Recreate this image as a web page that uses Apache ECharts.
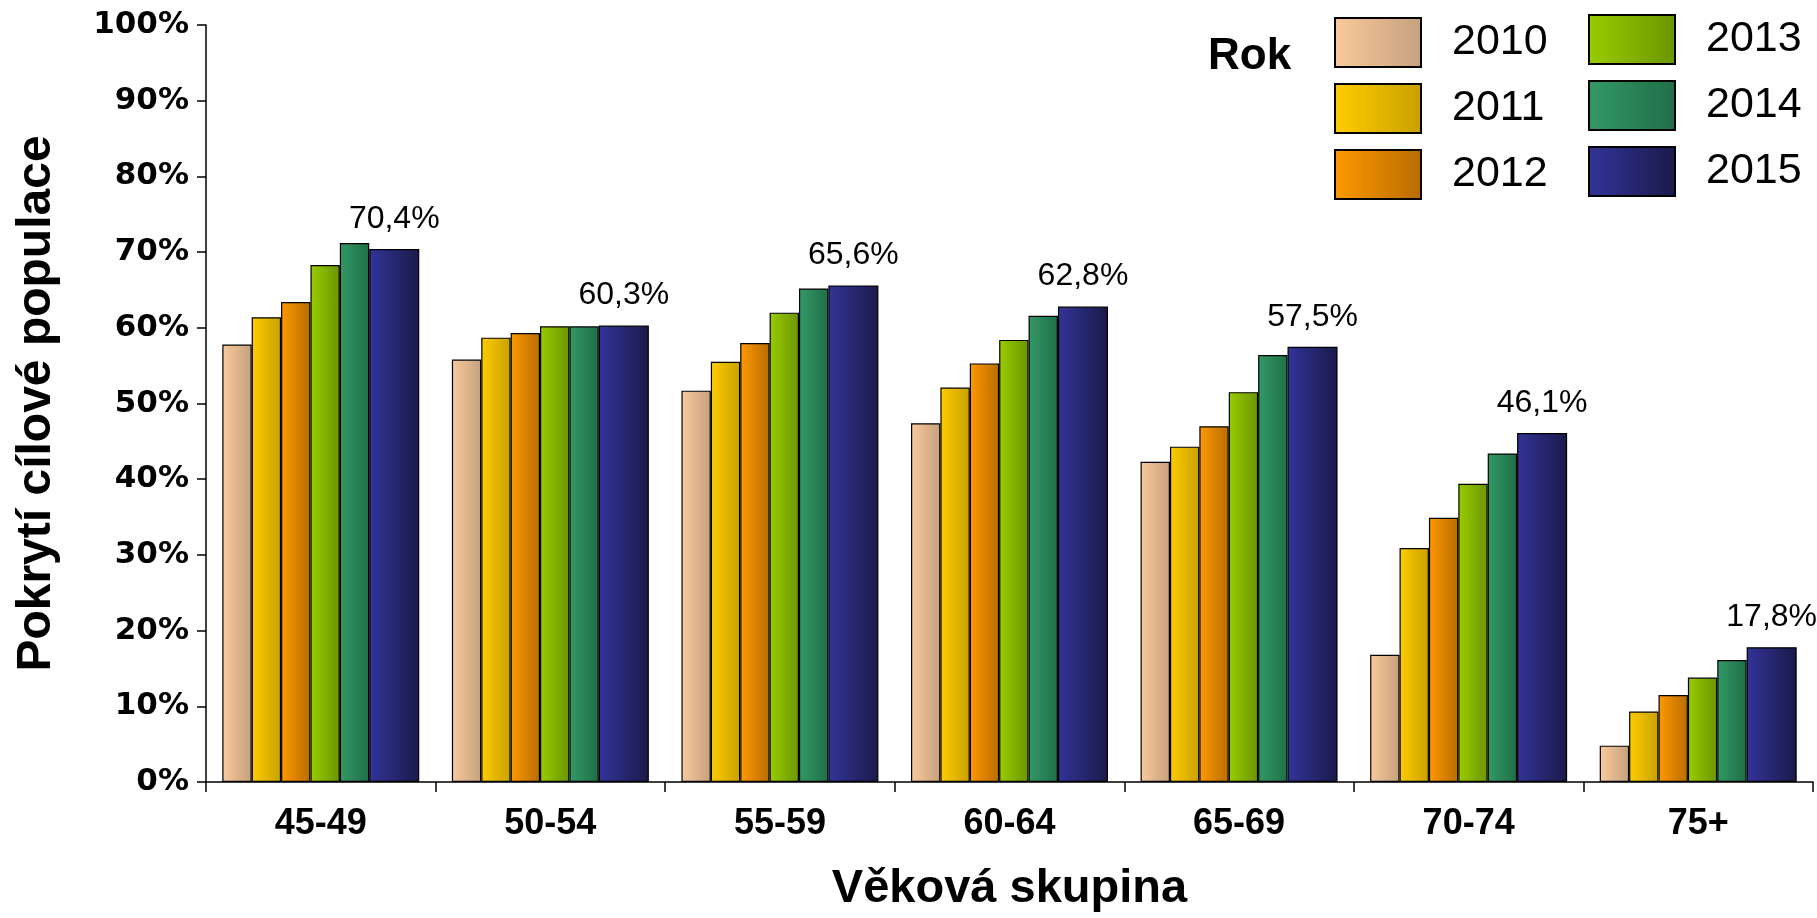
<!DOCTYPE html>
<html>
<head>
<meta charset="utf-8">
<script src="https://cdn.jsdelivr.net/npm/echarts@6/dist/echarts.min.js"></script>
<style>
html,body{margin:0;padding:0;background:#fff;}
#chart{width:1817px;height:918px;}
</style>
</head>
<body>
<div id="chart"></div>
<script>
const categories = ['45-49','50-54','55-59','60-64','65-69','70-74','75+'];
const years = ['2010','2011','2012','2013','2014','2015'];
const v2010 = [57.8, 55.8, 51.7, 47.4, 42.3, 16.8, 4.8];
const v2011 = [61.4, 58.7, 55.5, 52.1, 44.3, 30.9, 9.3];
const v2012 = [63.4, 59.3, 58.0, 55.3, 47.0, 34.9, 11.5];
const v2013 = [68.3, 60.2, 62.0, 58.4, 51.5, 39.4, 13.8];
const v2014 = [71.2, 60.2, 65.2, 61.6, 56.4, 43.4, 16.1];
const v2015 = [70.4, 60.3, 65.6, 62.8, 57.5, 46.1, 17.8];
const yTicks = [0,10,20,30,40,50,60,70,80,90,100];

const seriesValues = [v2010, v2011, v2012, v2013, v2014, v2015];
const gradStops = [
  ['#F9CA9C', '#C6A07E'],
  ['#FFCC00', '#C9A000'],
  ['#FF9900', '#B86C00'],
  ['#99CC00', '#6C9500'],
  ['#339966', '#1F6E48'],
  ['#333399', '#1A1A4A']
];
function grad(c){
  return new echarts.graphic.LinearGradient(0,0,1,0,[{offset:0,color:c[0]},{offset:1,color:c[1]}]);
}
const fmt = v => v.toFixed(1).replace('.', ',') + '%';

const series = years.map((y, i) => ({
  name: y,
  type: 'bar',
  data: seriesValues[i],
  barWidth: i === 5 ? '21.8%' : '12.8%',
  barGap: '0%',
  itemStyle: { color: grad(gradStops[i]), borderColor: '#000', borderWidth: 1.2 },
  label: i === 5 ? {
    show: true, position: 'top', distance: 14,
    formatter: p => fmt(p.value),
    color: '#000', fontSize: 32, fontFamily: 'Liberation Sans, Arial, sans-serif'
  } : { show: false },
  emphasis: { disabled: true },
  animation: false
}));

const legendText = { color: '#000', fontSize: 43, fontFamily: 'Liberation Sans, Arial, sans-serif', lineHeight: 43, padding: [0,0,0,26] };
const chart = echarts.init(document.getElementById('chart'));
chart.setOption({
  backgroundColor: '#fff',
  animation: false,
  title: {
    text: 'Rok', left: 1203, top: 30,
    textStyle: { fontSize: 44, fontWeight: 'bold', color: '#000', fontFamily: 'Liberation Sans, Arial, sans-serif' }
  },
  legend: [
    { data: years.slice(0,3), icon: 'rect', orient: 'vertical', left: 1329, top: 12, itemWidth: 86, itemHeight: 49, itemGap: 15, textStyle: legendText, selectedMode: false },
    { data: years.slice(3), icon: 'rect', orient: 'vertical', left: 1583, top: 9, itemWidth: 86, itemHeight: 49, itemGap: 15, textStyle: legendText, selectedMode: false }
  ],
  grid: { left: 206, right: 4, top: 25, bottom: 130, containLabel: false },
  xAxis: {
    type: 'category', data: categories,
    name: 'Věková skupina', nameLocation: 'middle', nameGap: 84,
    nameTextStyle: { fontSize: 47, fontWeight: 'bold', color: '#000', fontFamily: 'Liberation Sans, Arial, sans-serif' },
    axisLine: { lineStyle: { color: '#000', width: 1.5 } },
    axisTick: { show: true, length: 10, lineStyle: { color: '#000', width: 1.5 } },
    axisLabel: { color: '#000', fontSize: 36, fontWeight: 'bold', margin: 24, fontFamily: 'Liberation Sans, Arial, sans-serif' }
  },
  yAxis: {
    type: 'value', min: 0, max: 100, interval: 10,
    name: 'Pokrytí cílové populace', nameLocation: 'middle', nameGap: 145, nameRotate: 90,
    nameTextStyle: { fontSize: 48, fontWeight: 'bold', color: '#000', fontFamily: 'Liberation Sans, Arial, sans-serif' },
    axisLine: { show: true, lineStyle: { color: '#000', width: 1.5 } },
    axisTick: { show: true, length: 9, lineStyle: { color: '#000', width: 1.5 } },
    splitLine: { show: false },
    axisLabel: {
      color: '#000', fontSize: 31, fontWeight: 'bold', margin: 17,
      fontFamily: 'DejaVu Sans, sans-serif',
      formatter: v => (yTicks.indexOf(v) >= 0 ? v + '%' : '')
    }
  },
  series: series
});
</script>
</body>
</html>
